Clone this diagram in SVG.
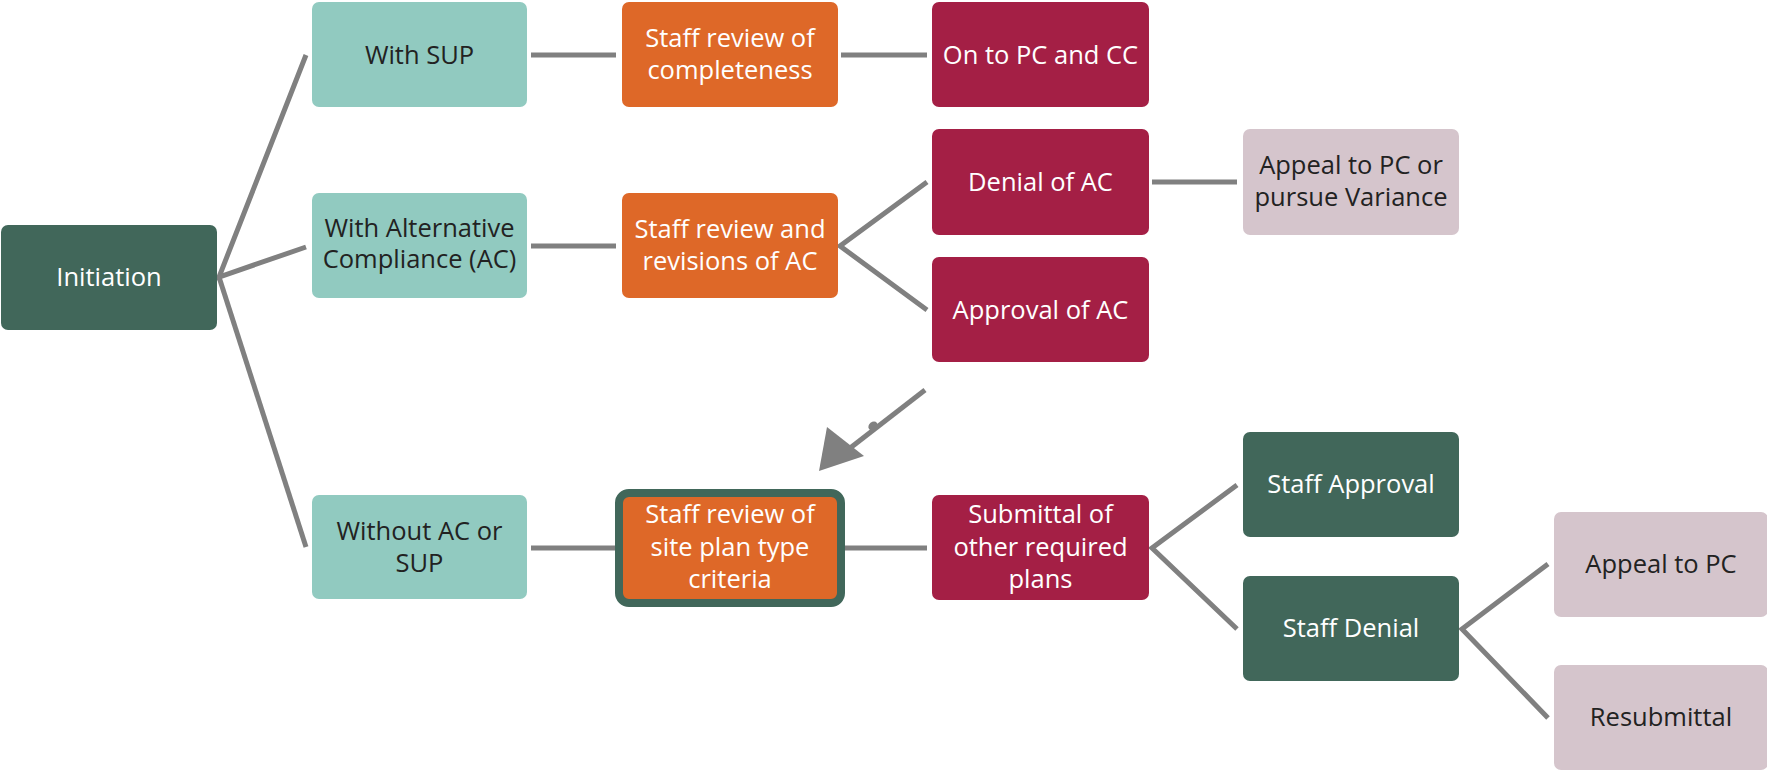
<svg xmlns="http://www.w3.org/2000/svg" width="1767" height="771" viewBox="0 0 1767 771">
<defs>
<style>
.box{stroke:none}
.dg{fill:#41675A}
.tl{fill:#91CAC0}
.or{fill:#DE6828}
.cr{fill:#A41F45}
.mv{fill:#D5C5CC}
text{font-family:"Open Sans","Liberation Sans",sans-serif;font-size:25.5px;text-anchor:middle}
.w{fill:#FFFFFF}
.k{fill:#222222}
.conn line,.conn polyline{stroke:#808080;stroke-width:5;fill:none}
</style>
</defs>
<rect width="1767" height="771" fill="#FFFFFF"/>
<g class="conn" id="connectors">
<polyline points="306,55 219,277 306,247"/>
<line x1="219" y1="277" x2="306" y2="547"/>
<line x1="531" y1="55" x2="616" y2="55"/>
<line x1="841" y1="55" x2="927" y2="55"/>
<line x1="531" y1="246" x2="616" y2="246"/>
<polyline points="927,182 840,246 927,310"/>
<line x1="1152" y1="182" x2="1237" y2="182"/>
<line x1="531" y1="548" x2="615" y2="548"/>
<line x1="844" y1="548" x2="927" y2="548"/>
<polyline points="1237,485 1152,548 1237,629"/>
<polyline points="1548,564 1462,629 1548,718"/>
<line x1="925" y1="390" x2="845" y2="452"/>
<polygon points="819,471 827,427 864,456" fill="#808080" stroke="none"/>
<ellipse cx="873" cy="426" rx="5" ry="4" transform="rotate(-38 873 426)" fill="#808080" stroke="none"/>
</g>
<g id="initiation"><rect class="box dg" x="1" y="225" width="216" height="105" rx="7"/><text class="w" x="109" y="286">Initiation</text></g>
<g id="with-sup"><rect class="box tl" x="312" y="2" width="215" height="105" rx="7"/><text class="k" x="419.5" y="64">With SUP</text></g>
<g id="with-ac"><rect class="box tl" x="312" y="193" width="215" height="105" rx="7"/><text class="k" x="419.5" y="237">With Alternative</text><text class="k" x="419.5" y="268">Compliance (AC)</text></g>
<g id="without"><rect class="box tl" x="312" y="495" width="215" height="104" rx="7"/><text class="k" x="419.5" y="540">Without AC or</text><text class="k" x="419.5" y="572">SUP</text></g>
<g id="review-complete"><rect class="box or" x="622" y="2" width="216" height="105" rx="7"/><text class="w" x="730" y="47">Staff review of</text><text class="w" x="730" y="79">completeness</text></g>
<g id="review-ac"><rect class="box or" x="622" y="193" width="216" height="105" rx="7"/><text class="w" x="730" y="238">Staff review and</text><text class="w" x="730" y="270">revisions of AC</text></g>
<g id="review-site"><rect x="619" y="493" width="222" height="110" rx="10" fill="#DE6828" stroke="#41675A" stroke-width="8"/><text class="w" x="730" y="523">Staff review of</text><text class="w" x="730" y="556">site plan type</text><text class="w" x="730" y="588">criteria</text></g>
<g id="on-to-pc"><rect class="box cr" x="932" y="2" width="217" height="105" rx="7"/><text class="w" x="1040.5" y="64">On to PC and CC</text></g>
<g id="denial-ac"><rect class="box cr" x="932" y="129" width="217" height="106" rx="7"/><text class="w" x="1040.5" y="191">Denial of AC</text></g>
<g id="approval-ac"><rect class="box cr" x="932" y="257" width="217" height="105" rx="7"/><text class="w" x="1040.5" y="319">Approval of AC</text></g>
<g id="submittal"><rect class="box cr" x="932" y="495" width="217" height="105" rx="7"/><text class="w" x="1040.5" y="523">Submittal of</text><text class="w" x="1040.5" y="556">other required</text><text class="w" x="1040.5" y="588">plans</text></g>
<g id="appeal-variance"><rect class="box mv" x="1243" y="129" width="216" height="106" rx="7"/><text class="k" x="1351" y="174">Appeal to PC or</text><text class="k" x="1351" y="206">pursue Variance</text></g>
<g id="staff-approval"><rect class="box dg" x="1243" y="432" width="216" height="105" rx="7"/><text class="w" x="1351" y="493">Staff Approval</text></g>
<g id="staff-denial"><rect class="box dg" x="1243" y="576" width="216" height="105" rx="7"/><text class="w" x="1351" y="637">Staff Denial</text></g>
<g id="appeal-pc"><rect class="box mv" x="1554" y="512" width="214" height="105" rx="7"/><text class="k" x="1661" y="573">Appeal to PC</text></g>
<g id="resubmittal"><rect class="box mv" x="1554" y="665" width="214" height="105" rx="7"/><text class="k" x="1661" y="726">Resubmittal</text></g>
</svg>
